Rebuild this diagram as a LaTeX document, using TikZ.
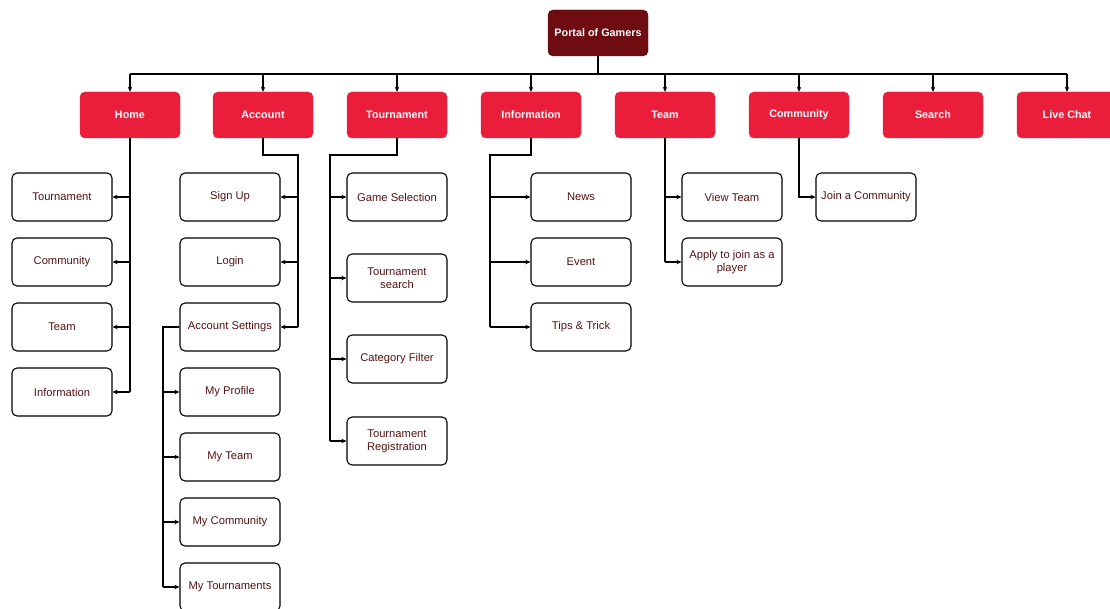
\documentclass[tikz,border=0pt]{standalone}
\usepackage{fontspec}
\setmainfont{Liberation Sans}
\usetikzlibrary{arrows.meta}
\definecolor{rootred}{RGB}{110,12,18}
\definecolor{lvlred}{RGB}{234,30,58}
\definecolor{txtred}{RGB}{85,20,20}
\tikzset{
  rootbox/.style={draw=rootred!70!black, fill=rootred, rounded corners=5pt, minimum width=100pt, minimum height=46pt, text=white, font=\fontsize{10.8}{12}\selectfont\bfseries, inner sep=2pt},
  topbox/.style={draw=lvlred, fill=lvlred, rounded corners=5pt, minimum width=100pt, minimum height=46pt, text=white, font=\fontsize{10.8}{12}\selectfont\bfseries, inner sep=2pt},
  subbox/.style={draw=black, line width=1.1pt, fill=white, rounded corners=5pt, minimum width=100pt, minimum height=48pt, text=txtred, font=\fontsize{11.2}{13}\selectfont, align=center, inner sep=2pt},
  conn/.style={draw=black, line width=1.1pt},
  arr/.style={conn, -{Stealth[length=5pt,width=4.5pt]}}
}
\begin{document}
\begin{tikzpicture}[x=1pt,y=-1pt]
\useasboundingbox (0,0) rectangle (1110,609);
\fill[white] (0,0) rectangle (1110,609);
% root
\node[rootbox] (root) at (598,33) {Portal of Gamers};
% level 1
\node[topbox] (home) at (130,115) {Home};
\node[topbox] (acc) at (263,115) {Account};
\node[topbox] (tour) at (397,115) {Tournament};
\node[topbox] (info) at (531,115) {Information};
\node[topbox] (team) at (665,115) {Team};
\node[topbox] (comm) at (799,115) {Community};
\node[topbox] (srch) at (933,115) {Search};
\node[topbox] (live) at (1067,115) {Live Chat};
% bus
\coordinate (busL) at (130,74);
\coordinate (busR) at (1067,74);
\draw[conn] (root.south) -- (root.south |- busL);
\draw[conn] (busL) -- (busR);
\foreach \n in {home,acc,tour,info,team,comm,srch,live}{
  \draw[arr] (\n.north |- busL) -- (\n.north);
}
% Home children
\node[subbox] (htour) at (62,197) {Tournament};
\node[subbox] (hcomm) at (62,262) {Community};
\node[subbox] (hteam) at (62,327) {Team};
\node[subbox] (hinfo) at (62,392) {Information};
\draw[conn] (home.south) -- (home.south |- hinfo.east);
\foreach \n in {htour,hcomm,hteam,hinfo}{
  \draw[arr] (home.south |- \n.east) -- (\n.east);
}
% Account children
\node[subbox] (sign) at (230,197) {Sign Up};
\node[subbox] (login) at (230,262) {Login};
\node[subbox] (aset) at (230,327) {Account Settings};
\coordinate (accj) at (298,155);
\draw[conn] (acc.south) |- (accj) -- (accj |- aset.east);
\foreach \n in {sign,login,aset}{
  \draw[arr] (accj |- \n.east) -- (\n.east);
}
% Account settings children
\node[subbox] (prof) at (230,392) {My Profile};
\node[subbox] (myteam) at (230,457) {My Team};
\node[subbox] (mycomm) at (230,522) {My Community};
\node[subbox] (mytour) at (230,587) {My Tournaments};
\coordinate (asj) at (163,327);
\draw[conn] (aset.west) -- (asj) -- (asj |- mytour.west);
\foreach \n in {prof,myteam,mycomm,mytour}{
  \draw[arr] (asj |- \n.west) -- (\n.west);
}
% Tournament children
\node[subbox] (games) at (397,197) {Game Selection};
\node[subbox] (tsearch) at (397,278) {Tournament\\search};
\node[subbox] (catf) at (397,359) {Category Filter};
\node[subbox] (treg) at (397,441) {Tournament\\Registration};
\coordinate (tourj) at (330,155);
\draw[conn] (tour.south) |- (tourj) -- (tourj |- treg.west);
\foreach \n in {games,tsearch,catf,treg}{
  \draw[arr] (tourj |- \n.west) -- (\n.west);
}
% Information children
\node[subbox] (news) at (581,197) {News};
\node[subbox] (event) at (581,262) {Event};
\node[subbox] (tips) at (581,327) {Tips \& Trick};
\coordinate (infoj) at (490,155);
\draw[conn] (info.south) |- (infoj) -- (infoj |- tips.west);
\foreach \n in {news,event,tips}{
  \draw[arr] (infoj |- \n.west) -- (\n.west);
}
% Team children
\node[subbox] (vteam) at (732,197) {View Team};
\node[subbox] (apply) at (732,262) {Apply to join as a\\player};
\draw[conn] (team.south) -- (team.south |- apply.west);
\foreach \n in {vteam,apply}{
  \draw[arr] (team.south |- \n.west) -- (\n.west);
}
% Community child
\node[subbox] (jcomm) at (866,197) {Join a Community};
\draw[arr] (comm.south) |- (jcomm.west);
\end{tikzpicture}
\end{document}
